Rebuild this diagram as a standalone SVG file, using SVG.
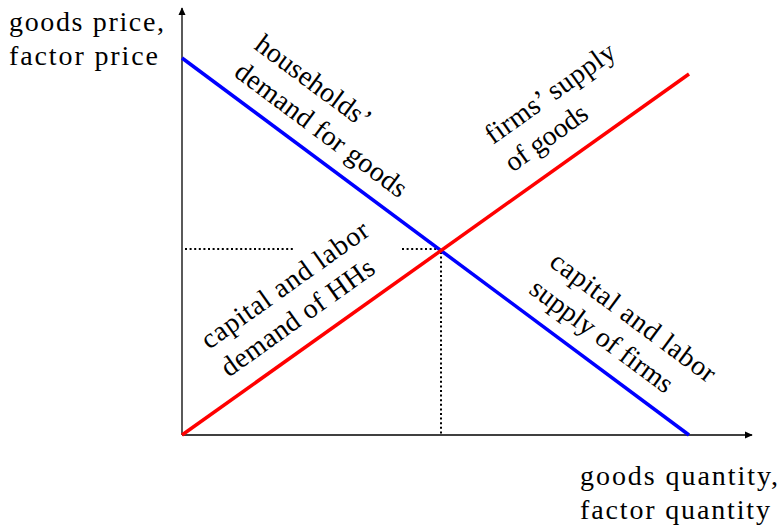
<svg xmlns="http://www.w3.org/2000/svg" width="784" height="525" viewBox="0 0 784 525">
<style>
text{font-family:"Liberation Serif","DejaVu Serif",serif;font-size:28px;fill:#000}
.axis{stroke:#000;stroke-width:1.3;fill:none}
.dot{stroke:#000;stroke-width:2;stroke-dasharray:2 2.6;fill:none}
.curve{stroke-width:3.5;fill:none}
</style>
<defs>
<marker id="arr" viewBox="0 0 10 10" refX="9" refY="5" markerWidth="8" markerHeight="8" markerUnits="userSpaceOnUse" orient="auto">
<path d="M0,0.5 L10,5 L0,9.5 Z" fill="#000"/>
</marker>
</defs>
<rect width="784" height="525" fill="#fff"/>
<g id="connectors">
<line class="axis" x1="182" y1="435" x2="182" y2="8" marker-end="url(#arr)"/>
<line class="axis" x1="182" y1="435" x2="752" y2="435" marker-end="url(#arr)"/>
<line class="dot" x1="185" y1="249" x2="294" y2="249"/>
<line class="dot" x1="402" y1="249" x2="440" y2="249"/>
<line class="dot" x1="441" y1="252" x2="441" y2="435"/>
<line id="demand" class="curve" stroke="#0000ff" x1="182" y1="58" x2="689" y2="435"/>
<line id="supply" class="curve" stroke="#ff0000" x1="182" y1="435" x2="689" y2="74"/>
</g>
<g id="yaxis-label">
<text x="9" y="31" textLength="155" lengthAdjust="spacing">goods price,</text>
<text x="9" y="65" textLength="149" lengthAdjust="spacing">factor price</text>
</g>
<g id="xaxis-label">
<text x="580" y="485" textLength="198" lengthAdjust="spacing">goods quantity,</text>
<text x="580" y="519" textLength="190" lengthAdjust="spacing">factor quantity</text>
</g>
<g id="hh-demand-goods" transform="translate(253,48) rotate(36.6)">
<text x="0" y="0" textLength="137" lengthAdjust="spacing">households’</text>
<text x="0" y="34" textLength="207" lengthAdjust="spacing">demand for goods</text>
</g>
<g id="firms-supply-goods" transform="translate(493,145) rotate(-35.5)">
<text x="0" y="0" textLength="153" lengthAdjust="spacing">firms’ supply</text>
<text x="0" y="34" textLength="95" lengthAdjust="spacing">of goods</text>
</g>
<g id="hh-demand-factors" transform="translate(209,350) rotate(-35.5)">
<text x="0" y="0" textLength="199" lengthAdjust="spacing">capital and labor</text>
<text x="0" y="34" textLength="182" lengthAdjust="spacing">demand of HHs</text>
</g>
<g id="firms-supply-factors" transform="translate(548,265) rotate(36.6)">
<text x="0" y="0" textLength="199" lengthAdjust="spacing">capital and labor</text>
<text x="0" y="34" textLength="171" lengthAdjust="spacing">supply of firms</text>
</g>
</svg>
